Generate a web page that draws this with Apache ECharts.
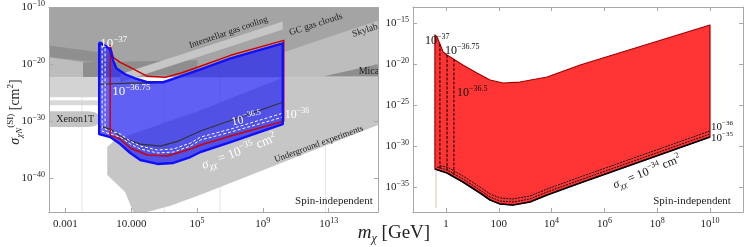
<!DOCTYPE html>
<html><head><meta charset="utf-8">
<script src="https://cdn.jsdelivr.net/npm/echarts@6/dist/echarts.min.js"></script>
<style>html,body{margin:0;padding:0;background:#fff}#c{width:747px;height:247px}</style>
</head><body><div id="c"></div>
<script>
// ===== Data: x = log10(m_chi / GeV), y = log10(sigma / cm^2) =====
const leftXTicks = [-3, 1, 5, 9, 13];
const leftXTickLabels = ['0.001', '10.000', '10^5', '10^9', '10^13'];
const leftYTicks = [-40, -30, -20, -10];
const rightXTicks = [0, 2, 4, 6, 8, 10];
const rightXTickLabels = ['1', '100', '10^4', '10^6', '10^8', '10^10'];
const rightYTicks = [-35, -30, -25, -20, -15];
const leftGridLines = [-2, 3, 6.4, 12.8];

// --- left panel: excluded regions (grey) ---
const grayTop = [[-4,-10],[16,-10],[16,-22.28],[-4,-22.28]];
const grayLeftDark = [[-4,-16.67],[-0.95,-17.89],[-0.95,-19.65],[-4,-18.77]];
const grayLeftMid = [[-4,-18.77],[-1.93,-19.65],[-1.93,-22.28],[-4,-22.28]];
const grayDarkBand = [[-1.93,-19.65],[5.02,-19.30],[5.02,-21.75],[-1.93,-22.28]];
const grayLight = [[-4,-22.28],[-0.95,-22.28],[-0.95,-25.79],[-4,-25.79]];
const grayThin = [[-4,-26.32],[-0.95,-26.32],[-0.95,-27.19],[-4,-27.19]];
const xenon1T = [[-4,-28.25],[-1.62,-28.25],[-1.20,-28.42],[-0.95,-28.95],[-0.89,-29.65],[-0.95,-30.35],[-1.20,-30.88],[-1.62,-31.05],[-4,-31.05]];
const underground = [[-0.46,-34.56],[-0.46,-39.47],[0.63,-42.46],[1.12,-46],[1.98,-46],[3.38,-44.91],[5.21,-42.98],[16,-30.70],[16,-22.28],[10.27,-22.28],[5.21,-28.07],[0.02,-33.33]];
const interstellarStripe = [[0.33,-23.16],[10.21,-13.86],[10.21,-12.46],[0.33,-21.75]];
const skylabArea = [[10.27,-22.28],[10.27,-17.89],[16,-12.28],[16,-22.28]];
const micaBand = [[12.71,-22.11],[16,-20.0],[16,-22.11]];

// --- left panel: allowed region and contours ---
const blueRegion = [[-0.95,-16.14],[-0.52,-16.84],[-0.28,-17.37],[-0.10,-19.30],[0.09,-20.70],[0.63,-21.75],[1.24,-22.46],[1.98,-23.16],[2.95,-23.16],[3.99,-22.11],[5.21,-20.88],[7.04,-18.95],[10.21,-16.32],
  [10.21,-30.53],[7.04,-33.68],[5.21,-35.44],[4.60,-36.32],[3.56,-37.37],[2.59,-37.54],[1.55,-36.84],[0.94,-35.61],[0.33,-34.04],[-0.28,-32.81],[-0.95,-32.28]];
const redContour = [[-0.28,-32.46],[-0.28,-16.67],[-0.10,-18.77],[0.33,-19.65],[0.94,-20.53],[1.98,-22.11],[3.07,-22.28],[3.99,-21.58],[5.21,-20.35],[7.04,-18.42],[10.27,-15.79],
  [10.27,-30.0],[7.04,-32.63],[5.21,-34.21],[4.60,-34.91],[3.20,-36.14],[1.98,-35.96],[0.94,-34.74],[0.33,-33.16],[-0.28,-32.46]];
const blackUpper = [[-0.95,-23.51],[0.94,-23.33],[2.16,-23.33],[3.20,-22.98]];
const blackLower = [[-0.95,-30.88],[-0.28,-31.40],[0.51,-32.98],[1.55,-34.04],[2.77,-34.39],[3.87,-33.51],[5.21,-31.75],[10.21,-26.67]];
const whiteDash1 = [[-0.77,-16.67],[-0.77,-31.75],[-0.28,-32.28],[0.33,-32.81],[0.94,-34.04],[1.55,-34.91],[2.59,-35.61],[3.56,-35.44],[4.60,-34.39],[5.21,-33.33],[7.04,-31.93],[10.21,-29.30]];
const whiteDash2 = [[-0.59,-17.19],[-0.59,-31.40],[0.33,-32.28],[0.94,-33.51],[1.55,-34.39],[2.59,-35.09],[3.56,-34.91],[4.60,-33.86],[5.21,-32.81],[7.04,-31.40],[10.21,-28.60]];

// --- right panel ---
const redRegion = [[-0.42,-16.41],[-0.34,-16.66],[-0.11,-18.49],[0.04,-18.85],[0.34,-19.46],[0.64,-20.07],[1.17,-21.05],[1.67,-21.90],[2.16,-22.27],[2.80,-22.15],[3.83,-21.54],[5.08,-20.07],[10.0,-15.20],
  [10.0,-28.85],[5.08,-34.46],[3.83,-35.93],[3.18,-36.78],[2.54,-37.15],[2.05,-37.02],[1.67,-36.54],[1.29,-35.68],[0.64,-34.34],[0.04,-33.24],[-0.42,-32.76]];
const redBottom34 = [[-0.42,-32.76],[0.04,-33.24],[0.64,-34.34],[1.29,-35.68],[1.67,-36.54],[2.05,-37.02],[2.54,-37.15],[3.18,-36.78],[3.83,-35.93],[5.08,-34.46],[10.0,-28.85]];
const redBottom35 = [[-0.34,-32.51],[0.04,-32.88],[0.64,-33.98],[1.29,-35.32],[1.67,-36.17],[2.05,-36.66],[2.54,-36.78],[3.18,-36.41],[3.83,-35.56],[5.08,-34.10],[10.0,-28.49]];
const redBottom36 = [[-0.23,-32.39],[0.04,-32.51],[0.64,-33.61],[1.29,-34.95],[1.67,-35.80],[2.05,-36.29],[2.54,-36.41],[3.18,-36.05],[3.83,-35.20],[5.08,-33.73],[10.0,-28.12]];
const vLine37 = [[-0.23,-17.51],[-0.23,-32.88]];
const vLine3675 = [[0.04,-18.85],[0.04,-33.12]];
const vLine365 = [[0.30,-19.34],[0.30,-33.49]];
const pinkLine = [[-0.38,-32.88],[-0.38,-37.51]];

// ===== Rendering =====
const SERIF = '"Liberation Serif", "DejaVu Serif", serif';
const chart = echarts.init(document.getElementById('c'), null, {renderer: 'canvas'});

function rich(size, color, supSize) {
  const ss = supSize || Math.round(size * 0.68);
  return {
    b: {fontSize: size, lineHeight: size + 4, fontFamily: SERIF, color: color},
    s: {fontSize: ss, lineHeight: ss, verticalAlign: 'top', fontFamily: SERIF, color: color},
    i: {fontSize: size, lineHeight: size + 4, fontFamily: SERIF, fontStyle: 'italic', color: color},
    sub: {fontSize: ss, lineHeight: ss, verticalAlign: 'bottom', fontFamily: SERIF, fontStyle: 'italic', color: color},
    t: {fontSize: size, lineHeight: size + 4, fontFamily: SERIF, color: color}
  };
}
function fmt(s) {
  if (s.indexOf('^') < 0) return '{t|' + s + '}';
  const p = s.split('^');
  return '{b|' + p[0] + '}{s|' + p[1].replace('-', '\u2212') + '}';
}
function exp10(v) { return fmt('10^' + v); }

const AX = '#a8a8a8';
function xAx(grid, min, max, ticks, labels, pos) {
  const show = pos === 'bottom';
  return {
    type: 'value', gridIndex: grid, min: min, max: max, position: pos, z: 10,
    axisLine: {show: true, onZero: false, lineStyle: {color: AX, width: 1}},
    axisTick: {show: true, inside: true, length: 4, customValues: ticks, lineStyle: {color: AX}},
    splitLine: {show: false},
    axisLabel: {show: show, customValues: ticks, margin: 5, fontFamily: SERIF, fontSize: 11, color: '#222',
      formatter: function (v) { const i = ticks.indexOf(v); return i >= 0 ? fmt(labels[i]) : ''; },
      rich: rich(11, '#222', 8)}
  };
}
function yAx(grid, min, max, ticks, pos) {
  const show = pos === 'left';
  return {
    type: 'value', gridIndex: grid, min: min, max: max, position: pos, z: 10,
    axisLine: {show: true, onZero: false, lineStyle: {color: AX, width: 1}},
    axisTick: {show: true, inside: true, length: 4, customValues: ticks, lineStyle: {color: AX}},
    splitLine: {show: false},
    axisLabel: {show: show, customValues: ticks, margin: 4, fontFamily: SERIF, fontSize: 11, color: '#222',
      formatter: function (v) { return exp10(v); }, rich: rich(11, '#222', 8)}
  };
}

function poly(panel, pts, color, z, stroke) {
  return {type: 'custom', xAxisIndex: panel * 2, yAxisIndex: panel * 2, coordinateSystem: 'cartesian2d',
    z: z || 2, silent: true, clip: true, animation: false, data: [pts[0]],
    renderItem: function (p, api) {
      return {type: 'polygon', shape: {points: pts.map(function (q) { return api.coord(q); })},
        style: Object.assign({fill: color}, stroke || {})};
    }};
}
function line(panel, pts, color, width, z, dash) {
  return {type: 'line', xAxisIndex: panel * 2, yAxisIndex: panel * 2, data: pts, symbol: 'none', showSymbol: false,
    z: z || 5, silent: true, animation: false, clip: true,
    lineStyle: {color: color, width: width, type: dash || 'solid', join: 'round'}};
}
function label(panel, pos, text, size, color, align, rot) {
  return {type: 'custom', xAxisIndex: panel * 2, yAxisIndex: panel * 2, coordinateSystem: 'cartesian2d',
    z: 9, silent: true, clip: false, animation: false, data: [pos],
    renderItem: function (p, api) {
      const c = api.coord(pos);
      return {type: 'text', x: c[0], y: c[1], rotation: (rot || 0) * Math.PI / 180,
        style: {text: text, fill: color, fontFamily: SERIF, fontSize: size, align: align || 'center',
          verticalAlign: 'middle', rich: rich(size, color)}};
    }};
}

const series = [];
// left grid lines
leftGridLines.forEach(function (g) { series.push(line(0, [[g, -46], [g, -10]], '#e4e4e4', 1, 1)); });
// left greys
series.push(poly(0, grayTop, '#a4a4a4', 2));
series.push(poly(0, grayLeftDark, '#8f8f8f', 2));
series.push(poly(0, grayLeftMid, '#bdbdbd', 2));
series.push(poly(0, grayDarkBand, '#8e8e8e', 2));
series.push(poly(0, grayLight, '#d3d3d3', 2));
series.push(poly(0, grayThin, '#d9d9d9', 2));
series.push(poly(0, xenon1T, '#c4c4c4', 2));
series.push(poly(0, underground, '#c6c6c6', 2));
series.push(poly(0, interstellarStripe, '#c6c6c6', 2));
series.push(poly(0, skylabArea, '#bdbdbd', 2));
series.push(poly(0, micaBand, '#8e8e8e', 2));
// blue allowed region
series.push(poly(0, blueRegion, 'rgba(40,40,240,0.74)', 3));
series.push(line(0, blackUpper, '#333', 1.2, 4));
series.push(line(0, blackLower, '#333', 1.2, 4));
series.push(line(0, whiteDash1, '#ffffff', 1, 4, [3, 2]));
series.push(line(0, whiteDash2, '#ffffff', 1, 4, [3, 2]));
series.push(line(0, redContour, '#d00000', 1.5, 5));
series.push(line(0, blueRegion.concat([blueRegion[0]]), '#1010ff', 2.4, 6));

// right panel
series.push(line(1, pinkLine, '#f4b8b8', 1, 2));
series.push(poly(1, redRegion, '#ff3434', 3, {stroke: '#a00000', lineWidth: 1.2, lineJoin: 'round'}));
series.push(line(1, vLine37, '#000', 1, 5, [3, 1.5]));
series.push(line(1, vLine3675, '#000', 1, 5, [3, 1.5]));
series.push(line(1, vLine365, '#000', 1, 5, [3, 1.5]));
series.push(line(1, redBottom36, '#111', 1, 5, [2, 1]));
series.push(line(1, redBottom35, '#111', 1, 5, [2, 1]));
series.push(line(1, redBottom34, '#000', 1.6, 5));

// labels, left
series.push(label(0, [-0.89, -16.32], fmt('10^-37'), 13, '#fff', 'left'));
series.push(label(0, [-0.16, -24.74], fmt('10^-36.75'), 13, '#fff', 'left'));
series.push(label(0, [8.01, -29.65], fmt('10^-36.5'), 12, '#fff', 'center', 12));
series.push(label(0, [10.33, -28.95], fmt('10^-36'), 12, '#fff', 'left'));
series.push(label(0, [7.55, -35.4], '{i|\u03c3}{sub|\u03c7\u03c7}{t| = }' + fmt('10^-35') + '{t| cm}{s|2}', 13, '#fff', 'center', 21));
series.push(label(0, [6.91, -14.39], 'Interstellar gas cooling', 9, '#222', 'center', 19));
series.push(label(0, [12.22, -12.98], 'GC gas clouds', 9.5, '#222', 'center', 18));
series.push(label(0, [15.21, -14.04], 'Skylab', 9.5, '#222', 'center', 18));
series.push(label(0, [15.45, -21.23], 'Mica', 10, '#222', 'center'));
series.push(label(0, [-2.41, -29.65], 'Xenon1T', 10, '#222', 'center'));
series.push(label(0, [12.40, -34.04], 'Underground experiments', 9, '#222', 'center', 20));
series.push(label(0, [13.32, -44.04], 'Spin-independent', 11, '#222', 'center'));
// labels, right
series.push(label(1, [-0.80, -17.15], fmt('10^-37'), 12, '#111', 'left'));
series.push(label(1, [-0.04, -18.37], fmt('10^-36.75'), 12, '#111', 'left'));
series.push(label(1, [0.42, -23.49], fmt('10^-36.5'), 12, '#111', 'left'));
series.push(label(1, [10.04, -27.63], fmt('10^-36'), 11, '#111', 'left'));
series.push(label(1, [10.04, -28.98], fmt('10^-35'), 11, '#111', 'left'));
series.push(label(1, [7.61, -33.12], '{i|\u03c3}{sub|\u03c7\u03c7}{t| = }' + fmt('10^-34') + '{t| cm}{s|2}', 12, '#111', 'center', 22));
series.push(label(1, [9.32, -36.66], 'Spin-independent', 11, '#222', 'center'));

chart.setOption({
  animation: false,
  backgroundColor: '#fff',
  grid: [
    {left: 49, top: 7, width: 329, height: 205, show: false},
    {left: 413, top: 7, width: 330, height: 205, show: false}
  ],
  xAxis: [
    xAx(0, -4, 16, leftXTicks, leftXTickLabels, 'bottom'),
    xAx(0, -4, 16, leftXTicks, leftXTickLabels, 'top'),
    xAx(1, -1.25, 11.25, rightXTicks, rightXTickLabels, 'bottom'),
    xAx(1, -1.25, 11.25, rightXTicks, rightXTickLabels, 'top')
  ],
  yAxis: [
    yAx(0, -46, -10, leftYTicks, 'left'),
    yAx(0, -46, -10, leftYTicks, 'right'),
    yAx(1, -38, -13, rightYTicks, 'left'),
    yAx(1, -38, -13, rightYTicks, 'right')
  ],
  series: series,
  graphic: [
    {type: 'text', x: 394, y: 233, z: 20, style: {text: '{i|m}{sub|\u03c7}{t| [GeV]}', align: 'center', verticalAlign: 'middle',
      fill: '#222', fontFamily: SERIF, fontSize: 19, rich: rich(19, '#222', 12)}},
    {type: 'text', x: 15, y: 112, rotation: Math.PI / 2, z: 20, style: {text: '{i|\u03c3}{sub|\u03c7N}{s|(SI)}{t| [cm}{s|2}{t|]}',
      align: 'center', verticalAlign: 'middle', fill: '#222', fontFamily: SERIF, fontSize: 14, rich: rich(14, '#222', 9)}}
  ]
});
</script>
</body></html>
